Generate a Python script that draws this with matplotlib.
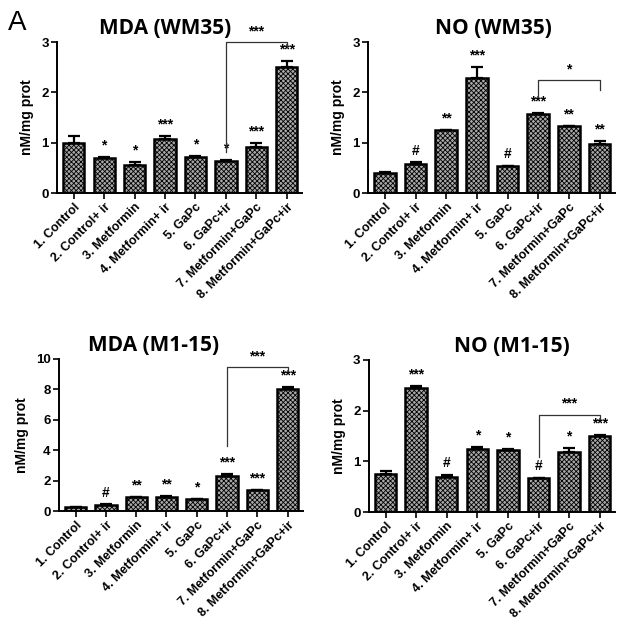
import numpy as np
import matplotlib
matplotlib.use("Agg")
from matplotlib import pyplot as plt
import matplotlib.ticker as ticker

groups = ["1. Control", "2. Control+ ir", "3. Metformin", "4. Metformin+ ir",
          "5. GaPc", "6. GaPc+ir", "7. Metformin+GaPc", "8. Metformin+GaPc+ir"]

mda_wm35 = [1.00, 0.70, 0.56, 1.08, 0.72, 0.63, 0.92, 2.50]
mda_wm35_err = [0.13, 0.02, 0.06, 0.05, 0.01, 0.02, 0.07, 0.12]
mda_wm35_sig = ["", "*", "*", "***", "*", "*", "***", "***"]

no_wm35 = [0.40, 0.58, 1.25, 2.28, 0.53, 1.56, 1.33, 0.97]
no_wm35_err = [0.01, 0.03, 0.01, 0.23, 0.01, 0.02, 0.01, 0.06]
no_wm35_sig = ["", "#", "**", "***", "#", "***", "**", "**"]

mda_m115 = [0.26, 0.40, 0.92, 0.95, 0.78, 2.33, 1.36, 8.00]
mda_m115_err = [0.03, 0.03, 0.03, 0.03, 0.03, 0.08, 0.04, 0.15]
mda_m115_sig = ["", "#", "**", "**", "*", "***", "***", "***"]

no_m115 = [0.75, 2.44, 0.70, 1.25, 1.22, 0.67, 1.19, 1.50]
no_m115_err = [0.05, 0.05, 0.03, 0.04, 0.03, 0.01, 0.07, 0.02]
no_m115_sig = ["", "***", "#", "*", "*", "#", "*", "***"]

plt.rcParams['font.family'] = ['Liberation Sans', 'DejaVu Sans']
plt.rcParams['hatch.linewidth'] = 0.6
plt.rcParams['hatch.color'] = '#6a6a6a'

fig = plt.figure(figsize=(6.25, 6.18), dpi=100)


def panel(rect, title, title_x, vals, errs, sig, ymax, step, bracket):
    ax = fig.add_axes(rect)
    x = np.arange(len(vals))
    ax.bar(x, vals, width=0.7, color='#a8a8a8', edgecolor='black', lw=1.8,
           hatch='xxxxxxx', zorder=2)
    ax.errorbar(x, vals, yerr=[np.zeros(len(vals)), errs], fmt='none',
                ecolor='black', elinewidth=1.6, capsize=4, capthick=1.6, zorder=3)
    off = ymax * 0.03
    for i in range(len(vals)):
        if sig[i]:
            ax.text(x[i], vals[i] + errs[i] + off, sig[i], ha='center', va='bottom',
                    fontsize=10, fontweight='bold')
    # bracket: (i0, i1, y, ylow0, ylow1, label)
    i0, i1, yb, yl0, yl1, lab = bracket
    ax.plot([i0, i0, i1, i1], [yl0, yb, yb, yl1], c='#333333', lw=0.9,
            clip_on=False, zorder=4)
    ax.text((i0 + i1) / 2, yb + ymax * 0.025, lab, ha='center', va='bottom',
            fontsize=10, fontweight='bold')
    ax.set_xlim(-0.55, 7.5)
    ax.set_ylim(0, ymax)
    ax.yaxis.set_major_locator(ticker.MultipleLocator(step))
    ax.set_xticks(x)
    ax.set_xticklabels(groups, rotation=45, ha='right', rotation_mode='anchor',
                       fontsize=9, fontweight='bold')
    for t in ax.get_yticklabels():
        t.set_fontweight('bold')
        t.set_fontsize(9.5)
    ax.spines['top'].set_visible(False)
    ax.spines['right'].set_visible(False)
    ax.spines['left'].set_linewidth(1.4)
    ax.spines['bottom'].set_linewidth(1.4)
    ax.tick_params(direction='out', length=4, width=1.2, pad=2)
    ax.set_ylabel("nM/mg prot", fontsize=10, fontweight='bold', labelpad=5)
    ax.set_title(title, x=title_x, fontsize=15, fontweight='bold',
                 family='Open Sans', pad=6)
    return ax


panel([0.0912, 0.6877, 0.392, 0.2443], "MDA (WM35)", 0.44, mda_wm35, mda_wm35_err,
      mda_wm35_sig, 3, 1, (5, 7, 3.0, 0.82, 2.9, "***"))
panel([0.5888, 0.6877, 0.395, 0.2443], "NO (WM35)", 0.51, no_wm35, no_wm35_err,
      no_wm35_sig, 3, 1, (5, 7, 2.25, 1.92, 2.05, "*"))
panel([0.0944, 0.1731, 0.390, 0.246], "MDA (M1-15)", 0.39, mda_m115, mda_m115_err,
      mda_m115_sig, 10, 2, (5, 7, 9.45, 4.3, 9.2, "***"))
panel([0.590, 0.1715, 0.394, 0.246], "NO (M1-15)", 0.58, no_m115, no_m115_err,
      no_m115_sig, 3, 1, (5, 7, 1.92, 1.09, 1.83, "***"))

fig.text(0.012, 0.962, "A", fontsize=20, ha='left', va='center')

plt.savefig('out.png', dpi=100)
